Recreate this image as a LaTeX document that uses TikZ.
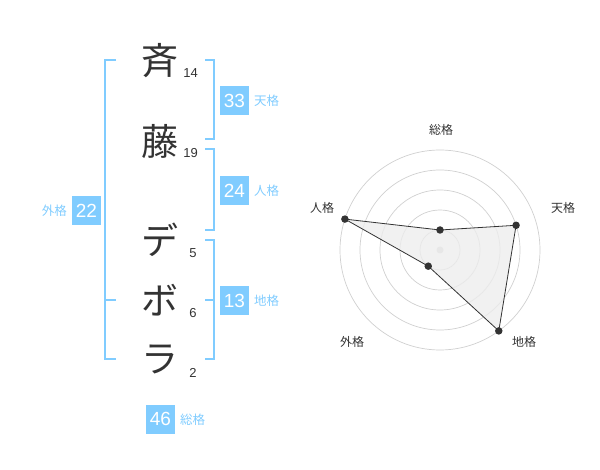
\documentclass[tikz,border=0pt]{standalone}
\usepackage{fontspec}
\setmainfont{Liberation Sans}
\newfontfamily\cjk{Noto Sans CJK JP}
\definecolor{kblue}{HTML}{80CCFF}
\definecolor{ink}{HTML}{333333}
\definecolor{ring}{HTML}{D0D0D0}
\begin{document}
\begin{tikzpicture}[x=1pt,y=-1pt,
  kanji/.style={font=\cjk\fontsize{37}{37}\selectfont,text=ink,inner sep=0pt},
  stroke/.style={font=\fontsize{13}{13}\selectfont,text=ink,inner sep=0pt},
  numbox/.style={fill=kblue,text=white,minimum width=29pt,minimum height=29pt,inner sep=0pt,font=\fontsize{19}{19}\selectfont},
  lbl/.style={font=\cjk\fontsize{12.5}{12.5}\selectfont,text=kblue,inner sep=0pt},
  brk/.style={draw=kblue,line width=1.6pt},
  axlbl/.style={font=\cjk\fontsize{12}{12}\selectfont,text=ink,inner sep=0pt},
  ringc/.style={draw=ring,line width=0.7pt},
  dot/.style={circle,fill=ink,inner sep=0pt,minimum size=7.5pt},
]
\useasboundingbox (0,0) rectangle (600,470);
% characters
\node[kanji] (k1) at (160,61) {斉};
\node[kanji] (k2) at (160,141) {藤};
\node[kanji] (k3) at (160,240) {デ};
\node[kanji] (k4) at (160,300) {ボ};
\node[kanji] (k5) at (160,359) {ラ};
\node[stroke] (s1) at (190.5,73) {14};
\node[stroke] (s2) at (190.5,153) {19};
\node[stroke] (s3) at (193,253) {5};
\node[stroke] (s4) at (193,313) {6};
\node[stroke] (s5) at (193,373) {2};
% brackets
\draw[brk] (116,60) -- (105,60) -- (105,359) -- (116,359);
\draw[brk] (105,300) -- (116,300);
\draw[brk] (205,60) -- (214,60) -- (214,139) -- (205,139);
\draw[brk] (205,149) -- (214,149) -- (214,230) -- (205,230);
\draw[brk] (205,240) -- (214,240) -- (214,359) -- (205,359);
\draw[brk] (205,300) -- (214,300);
% boxes
\node[numbox] (b1) at (234.5,100.5) {33};
\node[lbl,anchor=west] (l1) at (254,101) {天格};
\node[numbox] (b2) at (234.5,190.5) {24};
\node[lbl,anchor=west] (l2) at (254,191) {人格};
\node[numbox] (b3) at (234.5,300.5) {13};
\node[lbl,anchor=west] (l3) at (254,301) {地格};
\node[numbox] (b4) at (86.5,210.5) {22};
\node[lbl,anchor=east] (l4) at (67,211) {外格};
\node[numbox] (b5) at (160.5,419) {46};
\node[lbl,anchor=west] (l5) at (180,420) {総格};
% radar
\coordinate (c) at (440,250);
\foreach \r in {20,40,60,80,100} \draw[ringc] (c) circle[radius=\r];
\fill[ring] (c) circle[radius=3.5];
\path (c) ++(-90:20) coordinate (p1);
\path (c) ++(-18:80) coordinate (p2);
\path (c) ++(54:100) coordinate (p3);
\path (c) ++(126:20) coordinate (p4);
\path (c) ++(198:100) coordinate (p5);
\filldraw[fill=black!7,fill opacity=0.8,draw=ink,line width=0.8pt] (p1) -- (p2) -- (p3) -- (p4) -- (p5) -- cycle;
\foreach \p in {p1,p2,p3,p4,p5} \node[dot] at (\p) {};
\node[axlbl] (a1) at (441,130) {総格};
\node[axlbl] (a2) at (563,208) {天格};
\node[axlbl] (a3) at (322,208) {人格};
\node[axlbl] (a4) at (352,342) {外格};
\node[axlbl] (a5) at (524,342) {地格};
\end{tikzpicture}
\end{document}
